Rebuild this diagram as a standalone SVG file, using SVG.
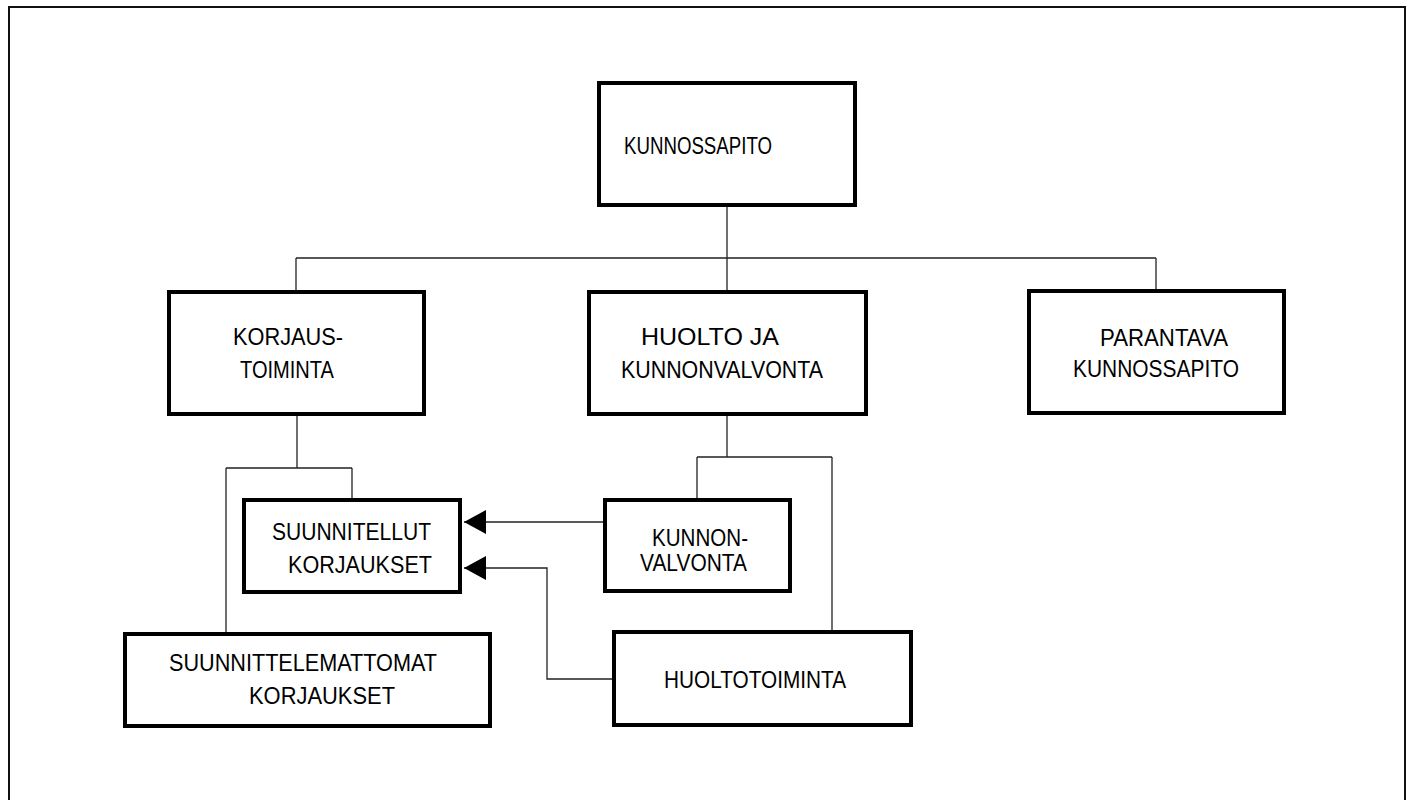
<svg xmlns="http://www.w3.org/2000/svg" width="1412" height="800" viewBox="0 0 1412 800">
<defs>
<style>
.box{fill:#fff;stroke:#000;stroke-width:4}
.ln{fill:none;stroke:#222;stroke-width:1.3}
.t{font-family:"Liberation Sans",Arial,sans-serif;font-size:24px;fill:#000}
</style>
<marker id="ah" markerUnits="userSpaceOnUse" markerWidth="24" markerHeight="24" refX="22" refY="12" orient="auto">
<path d="M0,0 L22,12 L0,24 Z" fill="#000"/>
</marker>
</defs>
<rect x="0" y="0" width="1412" height="800" fill="#fff"/>
<rect x="9" y="7" width="1396" height="800" fill="none" stroke="#111" stroke-width="2"/>
<g id="connectors">
<path class="ln" d="M727,207 V258 M296,258 H1156 M296,258 V290 M727,258 V290 M1156,258 V289"/>
<path class="ln" d="M297,416 V468 M226,468 H352 M352,468 V498 M226,468 V632"/>
<path class="ln" d="M727,416 V457 M697,457 H832 M697,457 V498 M832,457 V630"/>
<path class="ln" d="M603,522 H464" marker-end="url(#ah)"/>
<path class="ln" d="M612,679 H547 V568 H464" marker-end="url(#ah)"/>
</g>
<g id="kunnossapito"><rect class="box" x="599" y="83" width="256" height="122"/>
<text class="t" x="624" y="154" textLength="148" lengthAdjust="spacingAndGlyphs">KUNNOSSAPITO</text></g>
<g id="korjaustoiminta"><rect class="box" x="169" y="292" width="255" height="122"/>
<text class="t" x="233" y="345" textLength="110" lengthAdjust="spacingAndGlyphs">KORJAUS-</text>
<text class="t" x="240" y="378" textLength="94" lengthAdjust="spacingAndGlyphs">TOIMINTA</text></g>
<g id="huolto"><rect class="box" x="589" y="292" width="277" height="122"/>
<text class="t" x="641" y="345" textLength="138" lengthAdjust="spacingAndGlyphs">HUOLTO JA</text>
<text class="t" x="621" y="378" textLength="202" lengthAdjust="spacingAndGlyphs">KUNNONVALVONTA</text></g>
<g id="parantava"><rect class="box" x="1029" y="291" width="255" height="122"/>
<text class="t" x="1100" y="346" textLength="128" lengthAdjust="spacingAndGlyphs">PARANTAVA</text>
<text class="t" x="1073" y="377" textLength="166" lengthAdjust="spacingAndGlyphs">KUNNOSSAPITO</text></g>
<g id="suunnitellut"><rect class="box" x="244" y="500" width="216" height="92"/>
<text class="t" x="272" y="540" textLength="159" lengthAdjust="spacingAndGlyphs">SUUNNITELLUT</text>
<text class="t" x="288" y="573" textLength="144" lengthAdjust="spacingAndGlyphs">KORJAUKSET</text></g>
<g id="kunnonvalvonta"><rect class="box" x="605" y="500" width="185" height="91"/>
<text class="t" x="652" y="546" textLength="96" lengthAdjust="spacingAndGlyphs">KUNNON-</text>
<text class="t" x="640" y="571" textLength="107" lengthAdjust="spacingAndGlyphs">VALVONTA</text></g>
<g id="suunnittelemattomat"><rect class="box" x="125" y="634" width="365" height="92"/>
<text class="t" x="169" y="671" textLength="268" lengthAdjust="spacingAndGlyphs">SUUNNITTELEMATTOMAT</text>
<text class="t" x="249" y="704" textLength="146" lengthAdjust="spacingAndGlyphs">KORJAUKSET</text></g>
<g id="huoltotoiminta"><rect class="box" x="614" y="632" width="297" height="93"/>
<text class="t" x="664" y="688" textLength="182" lengthAdjust="spacingAndGlyphs">HUOLTOTOIMINTA</text></g>
</svg>
